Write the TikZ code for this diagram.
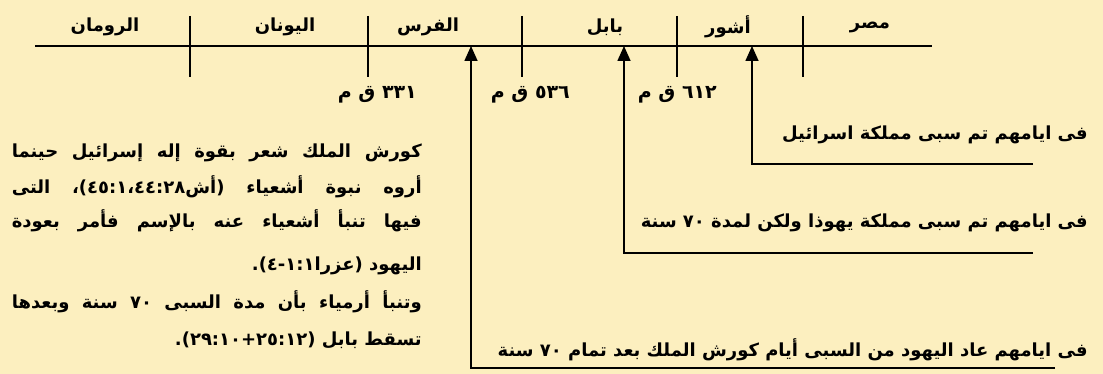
\documentclass[tikz,border=0pt]{standalone}
\usepackage{fontspec}
\usetikzlibrary{arrows.meta}
\TeXXeTstate=1
\newfontfamily\arabicfont[Script=Arabic]{DejaVu Sans}
\definecolor{bg}{HTML}{FCEFBF}
\newcommand{\artext}[1]{{\arabicfont\bfseries #1}}
\newcommand{\arjust}[2]{\hbox to #1{\arabicfont\bfseries\spaceskip=0.3em plus 3em minus 0.05em #2}}
\tikzset{
  rule/.style={line width=1.6pt, black},
  arr/.style={line width=1.6pt, black, -{Triangle[width=13pt,length=15pt]}},
  lbl/.style={inner sep=0pt, font=\fontsize{18}{20}\selectfont},
  datelbl/.style={inner sep=0pt, anchor=east, font=\fontsize{19}{21}\selectfont},
  para/.style={inner sep=0pt, anchor=east, font=\fontsize{18}{20}\selectfont},
}
\begin{document}
\begin{tikzpicture}[x=1pt,y=-1pt]
\fill[bg] (0,0) rectangle (1103,374);
\useasboundingbox (0,0) rectangle (1103,374);
% timeline
\coordinate (tlL) at (35,46);
\coordinate (tlR) at (932,46);
\draw[rule] (tlL) -- (tlR);
\foreach \x/\n in {190/a,368/b,522/c,677/d,803/e}{
  \coordinate (t\n top) at (\x,16);
  \coordinate (t\n bot) at (\x,77);
  \draw[rule] (t\n top) -- (t\n bot);
}
% era labels
\node[lbl] (rom) at (105,27) {\artext{\beginR الرومان\endR}};
\node[lbl] (gre) at (285,27) {\artext{\beginR اليونان\endR}};
\node[lbl] (per) at (428,27) {\artext{\beginR الفرس\endR}};
\node[lbl] (bab) at (605,27) {\artext{\beginR بابل\endR}};
\node[lbl] (ass) at (728,27) {\artext{\beginR أشور\endR}};
\node[lbl] (egy) at (870,27) {\artext{\beginR مصر\endR}};
% dates
\node[datelbl] (d331) at (417,95) {\artext{\beginR ٣٣١ ق م\endR}};
\node[datelbl] (d536) at (570,95) {\artext{\beginR ٥٣٦ ق م\endR}};
\node[datelbl] (d612) at (717,95) {\artext{\beginR ٦١٢ ق م\endR}};
% arrow targets on timeline
\coordinate (p1) at (752,46);
\coordinate (p2) at (624,46);
\coordinate (p3) at (471,46);
\coordinate (c1) at (752,164);
\coordinate (c2) at (624,253);
\coordinate (c3) at (471,368);
\coordinate (e1) at (1033,164);
\coordinate (e2) at (1033,253);
\coordinate (e3) at (1055,368);
\draw[arr] (e1) -- (c1) -- (p1);
\draw[arr] (e2) -- (c2) -- (p2);
\draw[arr] (e3) -- (c3) -- (p3);
% right texts
\node[para] (r1) at (1088,135) {\artext{\beginR فى ايامهم تم سبى مملكة اسرائيل\endR}};
\node[para] (r2) at (1088,223) {\artext{\beginR فى ايامهم تم سبى مملكة يهوذا ولكن لمدة ٧٠ سنة\endR}};
\node[para] (r3) at (1088,350) {\artext{\beginR فى ايامهم عاد اليهود من السبى أيام كورش الملك بعد تمام ٧٠ سنة\endR}};
% left paragraph
\node[para] (l1) at (422,153) {\arjust{410pt}{\beginR كورش الملك شعر بقوة إله إسرائيل حينما\endR}};
\node[para] (l2) at (422,187) {\arjust{410pt}{\beginR أروه نبوة أشعياء (أش٤٥:١،٤٤:٢٨)، التى\endR}};
\node[para] (l3) at (422,221) {\arjust{410pt}{\beginR فيها تنبأ أشعياء عنه بالإسم فأمر بعودة\endR}};
\node[para] (l4) at (422,266) {\artext{\beginR اليهود (عزرا١:١-٤).\endR}};
\node[para] (l5) at (422,302) {\arjust{410pt}{\beginR وتنبأ أرمياء بأن مدة السبى ٧٠ سنة وبعدها\endR}};
\node[para] (l6) at (422,340) {\artext{\beginR تسقط بابل (٢٥:١٢+٢٩:١٠).\endR}};
\end{tikzpicture}
\end{document}
